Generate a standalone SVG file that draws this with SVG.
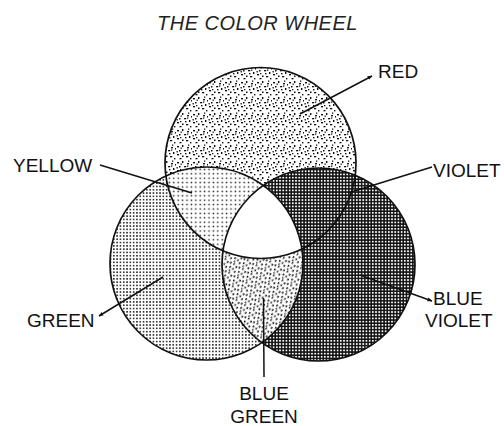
<svg xmlns="http://www.w3.org/2000/svg" width="504" height="426" viewBox="0 0 504 426">
  <style>
    .lbl { font-family: "Liberation Sans", Arial, sans-serif; font-size: 19px; fill: #111; }
    .title { font-family: "Liberation Sans", Arial, sans-serif; font-size: 20px; font-style: italic; fill: #222; letter-spacing: 0.5px; }
    .outline { fill: none; stroke: #111; stroke-width: 1.7; }
    .lead { fill: none; stroke: #111; stroke-width: 1.5; }
  </style>
  <defs>
    <pattern id="pRed" width="16" height="16" patternUnits="userSpaceOnUse">
      <rect width="16" height="16" fill="#fff"/>
      <g fill="#111">
        <rect x="1" y="2" width="2" height="1.4"/>
        <rect x="6" y="1" width="1.4" height="2"/>
        <rect x="11" y="3" width="2" height="1.4"/>
        <rect x="3" y="6" width="1.5" height="1.5"/>
        <rect x="8" y="6" width="2.2" height="1.3"/>
        <rect x="13" y="8" width="1.4" height="2"/>
        <rect x="1" y="10" width="2" height="1.4"/>
        <rect x="6" y="11.5" width="1.5" height="1.5"/>
        <rect x="10" y="12" width="2.2" height="1.3"/>
        <rect x="14" y="14" width="1.4" height="1.4"/>
        <rect x="3.5" y="14" width="2" height="1.3"/>
        <rect x="9" y="9" width="1.4" height="1.4"/>
        <rect x="15" y="4" width="1" height="1.5"/>
        <rect x="4.5" y="3.5" width="1.3" height="1.3"/>
        <rect x="12" y="0.5" width="1.3" height="1.3"/>
        <rect x="0.5" y="7" width="1.3" height="1.5"/>
        <rect x="11" y="5.5" width="1.3" height="1.3"/>
        <rect x="4" y="9" width="1.3" height="1.3"/>
      </g>
    </pattern>
    <pattern id="pYellow" width="4.4" height="4.4" patternUnits="userSpaceOnUse">
      <rect width="4.4" height="4.4" fill="#fff"/>
      <rect x="1.5" y="1.5" width="1.4" height="1.4" fill="#111"/>
    </pattern>
    <pattern id="pGreen" width="3.3" height="3.3" patternUnits="userSpaceOnUse">
      <rect width="3.3" height="3.3" fill="#fff"/>
      <rect x="0.9" y="0.9" width="1.5" height="1.5" fill="#111"/>
    </pattern>
    <pattern id="pBlue" width="3.2" height="3.2" patternUnits="userSpaceOnUse">
      <rect width="3.2" height="3.2" fill="#111"/>
      <rect x="0.8" y="0.8" width="1.7" height="1.7" fill="#fff"/>
    </pattern>
    <pattern id="pBG" width="10" height="10" patternUnits="userSpaceOnUse" patternTransform="rotate(30)">
      <rect width="10" height="10" fill="#fff"/>
      <g fill="#111">
        <rect x="0.5" y="1" width="1.4" height="2.2"/>
        <rect x="4" y="0.5" width="1.4" height="2"/>
        <rect x="7.5" y="2" width="1.4" height="2.2"/>
        <rect x="2" y="5" width="1.4" height="2.1"/>
        <rect x="5.5" y="5.5" width="1.4" height="1.9"/>
        <rect x="8.5" y="7" width="1.4" height="2.2"/>
        <rect x="3" y="8.5" width="1.4" height="1.4"/>
      </g>
    </pattern>
    <clipPath id="cGreen"><circle cx="206.5" cy="263.5" r="96.5"/></clipPath>
    <clipPath id="cBlue"><circle cx="318.5" cy="264.5" r="96.5"/></clipPath>
    <marker id="arr" viewBox="0 0 10 10" refX="9" refY="5" markerWidth="5" markerHeight="5" orient="auto" markerUnits="userSpaceOnUse">
      <path d="M0,1 L10,5 L0,9 z" fill="#111"/>
    </marker>
  </defs>

  <g id="title"><text class="title" x="257.5" y="30" text-anchor="middle">THE COLOR WHEEL</text></g>

  <g id="red"><circle cx="260.5" cy="163" r="95.5" fill="url(#pRed)"/></g>
  <g id="green"><circle cx="206.5" cy="263.5" r="96.5" fill="url(#pGreen)"/></g>
  <g id="yellow"><circle cx="260.5" cy="163" r="95.5" fill="url(#pYellow)" clip-path="url(#cGreen)"/></g>
  <g id="blue-violet"><circle cx="318.5" cy="264.5" r="96.5" fill="url(#pBlue)"/></g>
  <g id="blue-green"><circle cx="206.5" cy="263.5" r="96.5" fill="url(#pBG)" clip-path="url(#cBlue)"/></g>
  <g id="center" clip-path="url(#cGreen)"><circle cx="260.5" cy="163" r="95.5" fill="#fff" clip-path="url(#cBlue)"/></g>

  <g id="outlines">
    <circle class="outline" cx="260.5" cy="163" r="95.5"/>
    <circle class="outline" cx="206.5" cy="263.5" r="96.5"/>
    <circle class="outline" cx="318.5" cy="264.5" r="96.5"/>
  </g>

  <g id="connectors">
    <line class="lead" x1="300" y1="114" x2="372" y2="76" marker-end="url(#arr)"/>
    <line class="lead" x1="100" y1="165" x2="192" y2="193"/>
    <line class="lead" x1="432" y1="167" x2="348" y2="193"/>
    <line class="lead" x1="163" y1="277" x2="99" y2="316" marker-end="url(#arr)"/>
    <line class="lead" x1="360" y1="275" x2="432" y2="301" marker-end="url(#arr)"/>
    <line class="lead" x1="263.5" y1="298" x2="264" y2="377"/>
  </g>

  <g id="label-red"><text class="lbl" x="378" y="78">RED</text></g>
  <g id="label-yellow"><text class="lbl" x="13" y="172">YELLOW</text></g>
  <g id="label-violet"><text class="lbl" x="433" y="177">VIOLET</text></g>
  <g id="label-green"><text class="lbl" x="27" y="327">GREEN</text></g>
  <g id="label-blue-violet"><text class="lbl" x="433" y="305">BLUE</text><text class="lbl" x="425" y="327">VIOLET</text></g>
  <g id="label-blue-green"><text class="lbl" x="264" y="400" text-anchor="middle">BLUE</text><text class="lbl" x="264" y="423" text-anchor="middle">GREEN</text></g>
</svg>
